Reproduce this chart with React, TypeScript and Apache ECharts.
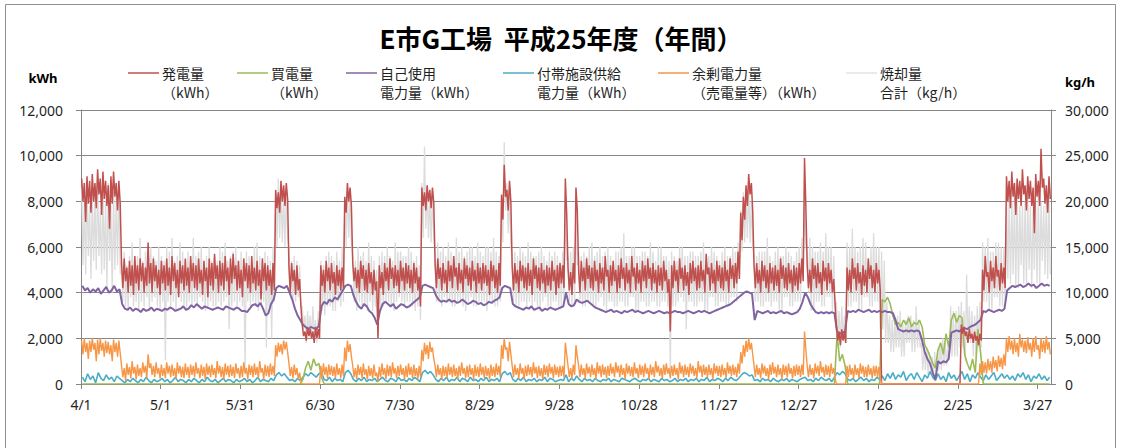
import React, { useEffect, useRef } from 'react';
import * as echarts from 'echarts';

// x-axis: day index 0..365 from 4/1, labels every 30 days
const tickLabels = ['4/1', '5/1', '5/31', '6/30', '7/30', '8/29', '9/28', '10/28', '11/27', '12/27', '1/26', '2/25', '3/27'];

const legendLine1 = ['発電量', '買電量', '自己使用', '付帯施設供給', '余剰電力量', '焼却量'];
const legendLine2 = ['（kWh）', '（kWh）', '電力量（kWh）', '電力量（kWh）', '（売電量等）（kWh）', '合計（kg/h）'];
const seriesColors = ['#c0504d', '#9bbb59', '#8064a2', '#4bacc6', '#f79646', '#dcdcdc'];

// 発電量 (kWh): daily high / low
const generationHigh = [
  9000, 8800, 9100, 8900, 9200, 8800, 9400, 9000, 9300, 8900,
  8700, 9100, 9300, 8800, 8900, 5300, 5500, 5100, 5400, 5200,
  5600, 5200, 5500, 5300, 5100, 6200, 5300, 5500, 5200, 5000,
  5400, 5200, 5500, 5100, 5600, 5300, 5000, 5400, 5200, 5500,
  5100, 5600, 5300, 5200, 5500, 5000, 5400, 5100, 5500, 5300,
  5700, 5200, 5400, 5300, 5600, 5100, 5500, 5700, 5200, 5400,
  5000, 5500, 5300, 5200, 5600, 5100, 5400, 5000, 5500, 5300,
  5200, 5000, 5300, 8500, 8400, 8900, 8700, 8800, 5100, 5300,
  5000, 5200, 4600, 2600, 2300, 2500, 2400, 2300, 2500, 2400,
  5200, 5000, 5400, 5100, 5300, 4900, 5200, 5000, 5100, 8200,
  8800, 8600, 5300, 5100, 5000, 5400, 5200, 5000, 5300, 4900,
  5000, 4500, 5200, 4900, 5300, 5100, 5500, 5100, 5200, 5000,
  5400, 5100, 5300, 5200, 5000, 5300, 5100, 4700, 8600, 8400,
  8700, 8500, 8600, 5200, 5500, 5100, 5300, 5000, 5400, 5200,
  5600, 5100, 5300, 5000, 5500, 5200, 5100, 5400, 5000, 5300,
  5100, 5300, 5200, 5000, 5400, 5200, 5000, 5300, 8300, 9600,
  8500, 8900, 5100, 5300, 5000, 5400, 5200, 5100, 5300, 5000,
  5500, 5200, 5100, 5300, 5000, 5200, 5100, 5400, 5000, 5200,
  5300, 5200, 9000, 5100, 4900, 5300, 8600, 5000, 5400, 5100,
  5500, 5200, 5100, 5400, 5000, 5300, 5100, 5600, 5000, 5200,
  5400, 5000, 5200, 5500, 5100, 5300, 5000, 5600, 5100, 5300,
  5000, 5400, 5200, 5500, 5100, 5300, 5000, 5200, 5100, 5400,
  5000, 4600, 5200, 5400, 5000, 5500, 5100, 5200, 4900, 5300,
  5400, 5100, 5200, 5400, 5000, 5700, 5100, 5300, 5000, 5400,
  5200, 5100, 5400, 5000, 5500, 5200, 5300, 5800, 7500, 8200,
  8700, 9200, 8800, 5200, 5300, 5000, 5400, 5200, 5000, 5300,
  5100, 5200, 5000, 5500, 5200, 5100, 5300, 5000, 5200, 5100,
  5300, 5500, 9900, 5200, 5000, 5500, 5200, 5300, 4900, 5400,
  5100, 5300, 5000, 4600, 2500, 2300, 2400, 2300, 5100, 5000,
  5500, 5100, 5300, 4900, 5200, 5000, 5500, 5200, 5000, 5300,
  5000, 0, 0, 0, 0, 0, 0, 0, 0, 0,
  0, 0, 0, 0, 0, 0, 0, 0, 0, 0,
  0, 0, 0, 0, 0, 0, 0, 0, 0, 0,
  0, 2600, 2500, 2300, 2400, 2200, 2300, 2100, 2200, 5000,
  5600, 4900, 5400, 5100, 5600, 5000, 5300, 5100, 9100, 8900,
  9300, 8800, 9000, 8900, 9400, 8700, 9100, 8900, 8600, 9200,
  8900, 10300, 9000, 8700, 9100,
];
const generationLow = [
  8000, 7100, 7900, 7500, 8000, 7700, 8300, 7400, 8100, 7800,
  6800, 7900, 8200, 7600, 7900, 4200, 4500, 4000, 4300, 3900,
  4400, 4100, 4500, 4000, 4300, 4400, 4000, 4500, 4200, 3900,
  4400, 4100, 4300, 3900, 4500, 4200, 3800, 4400, 4100, 4300,
  4000, 4500, 4200, 4100, 4400, 3900, 4500, 3800, 4300, 4100,
  4600, 4000, 4300, 4100, 4500, 3900, 4400, 4600, 4100, 4200,
  3800, 4500, 4200, 4000, 4400, 4100, 4300, 3700, 4500, 4100,
  4300, 3900, 4100, 7700, 7500, 8000, 7800, 8100, 4000, 4500,
  3900, 4100, 3400, 2100, 1900, 2100, 2000, 1800, 2000, 2000,
  4300, 4000, 4500, 4100, 4400, 3900, 4300, 4100, 4200, 7500,
  8000, 7800, 4500, 4200, 4000, 4600, 4100, 4000, 4400, 3900,
  4100, 2000, 4200, 3900, 4500, 4100, 4600, 4200, 4300, 4000,
  4500, 4100, 4400, 4200, 4000, 4400, 4100, 3400, 7800, 7600,
  8000, 7700, 7900, 4200, 4600, 4100, 4400, 4000, 4500, 4200,
  4700, 4100, 4400, 4000, 4600, 4300, 4100, 4500, 4000, 4400,
  4100, 4400, 4300, 3900, 4500, 4200, 4000, 4300, 7200, 8200,
  7600, 8000, 4100, 4400, 4000, 4500, 4200, 4100, 4300, 3900,
  4600, 4200, 4100, 4400, 4000, 4300, 4100, 4500, 3900, 4200,
  4400, 4200, 7500, 4100, 3900, 4400, 7600, 4000, 4500, 4100,
  4600, 4200, 4100, 4500, 4000, 4400, 4100, 4700, 4000, 4300,
  4500, 4000, 4200, 4600, 4100, 4400, 4000, 4700, 4100, 4400,
  4000, 4500, 4200, 4600, 4100, 4400, 4000, 4300, 4100, 4500,
  4000, 2300, 4200, 4500, 4000, 4600, 4100, 4300, 3900, 4400,
  4500, 4100, 4200, 4500, 4000, 4800, 4100, 4400, 4000, 4500,
  4200, 4100, 4500, 4000, 4600, 4200, 4400, 4600, 6300, 7200,
  7800, 8300, 7600, 4200, 4400, 4000, 4500, 4200, 4000, 4400,
  4100, 4300, 4000, 4600, 4200, 4100, 4400, 4000, 4300, 4100,
  4400, 4500, 7800, 4200, 4000, 4600, 4200, 4400, 3900, 4500,
  4100, 4400, 4000, 3500, 1900, 1700, 1900, 1800, 4100, 4000,
  4600, 4100, 4400, 3900, 4300, 4000, 4600, 4200, 4000, 4400,
  4100, 0, 0, 0, 0, 0, 0, 0, 0, 0,
  0, 0, 0, 0, 0, 0, 0, 0, 0, 0,
  0, 0, 0, 0, 0, 0, 0, 0, 0, 0,
  0, 2200, 2100, 1800, 2000, 1800, 1900, 1700, 1900, 4100,
  4700, 4000, 4500, 4200, 4700, 4100, 4400, 4200, 8000, 7700,
  8200, 7400, 8100, 7800, 8300, 7600, 8100, 7800, 6600, 8200,
  7800, 8600, 7900, 7500, 8100,
];

// 買電量 (kWh), daily
const purchased = [
  0, 0, 0, 0, 0, 0, 0, 0, 0, 0,
  0, 0, 0, 0, 0, 0, 0, 0, 0, 0,
  0, 0, 0, 0, 0, 0, 0, 0, 0, 0,
  0, 0, 0, 0, 0, 0, 0, 0, 0, 0,
  0, 0, 0, 0, 0, 0, 0, 0, 0, 0,
  0, 0, 0, 0, 0, 0, 0, 0, 0, 0,
  0, 0, 0, 0, 0, 0, 0, 0, 0, 0,
  0, 0, 0, 0, 0, 0, 0, 0, 0, 0,
  0, 0, 0, 200, 700, 1000, 600, 1100, 800, 900,
  300, 0, 0, 0, 0, 0, 0, 0, 0, 0,
  0, 0, 0, 0, 0, 0, 0, 0, 0, 0,
  0, 0, 0, 0, 0, 0, 0, 0, 0, 0,
  0, 0, 0, 0, 0, 0, 0, 0, 0, 0,
  0, 0, 0, 0, 0, 0, 0, 0, 0, 0,
  0, 0, 0, 0, 0, 0, 0, 0, 0, 0,
  0, 0, 0, 0, 0, 0, 0, 0, 0, 0,
  0, 0, 0, 0, 0, 0, 0, 0, 0, 0,
  0, 0, 0, 0, 0, 0, 0, 0, 0, 0,
  0, 0, 0, 0, 0, 0, 0, 0, 0, 0,
  0, 0, 0, 0, 0, 0, 0, 0, 0, 0,
  0, 0, 0, 0, 0, 0, 0, 0, 0, 0,
  0, 0, 0, 0, 0, 0, 0, 0, 0, 0,
  0, 0, 0, 0, 0, 0, 0, 0, 0, 0,
  0, 0, 0, 0, 0, 0, 0, 0, 0, 0,
  0, 0, 0, 0, 0, 0, 0, 0, 0, 0,
  0, 0, 0, 0, 0, 0, 0, 0, 0, 0,
  0, 0, 0, 0, 0, 0, 0, 0, 0, 0,
  0, 0, 0, 0, 0, 0, 0, 0, 0, 0,
  0, 0, 0, 0, 2200, 1000, 1300, 800, 0, 0,
  0, 0, 0, 0, 0, 0, 0, 0, 0, 0,
  0, 3700, 3600, 3800, 3500, 3000, 2600, 2700, 2500, 2800,
  2600, 2900, 2500, 2700, 2600, 2800, 2500, 1700, 1500, 1200,
  900, 700, 1500, 1800, 1300, 2200, 1600, 2800, 3100, 2700,
  3000, 2900, 1300, 900, 600, 1100, 500, 2400, 1400, 0,
  0, 0, 0, 0, 0, 0, 0, 0, 0, 0,
  0, 0, 0, 0, 0, 0, 0, 0, 0, 0,
  0, 0, 0, 0, 0,
];

// 自己使用電力量 (kWh), daily
const selfUse = [
  4300, 4100, 4200, 4000, 4150, 4050, 4200, 3950, 4100, 4250,
  4000, 4100, 4300, 4050, 4150, 3500, 3300, 3250, 3350, 3200,
  3300, 3250, 3150, 3300, 3200, 3250, 3350, 3200, 3300, 3250,
  3200, 3300, 3250, 3350, 3300, 3200, 3250, 3300, 3400, 3250,
  3300, 3450, 3350, 3500, 3400, 3300, 3400, 3350, 3300, 3250,
  3300, 3350, 3300, 3250, 3400, 3350, 3300, 3250, 3350, 3300,
  3200, 3200, 3150, 3300, 3450, 3500, 3400, 3550, 3300, 3000,
  3100, 3500, 3700, 4200, 4300, 4250, 4200, 4300, 4000, 3700,
  3300, 3000, 2800, 2600, 2500, 2400, 2500, 2450, 2400, 2550,
  3400, 3600, 3500, 3700, 3600, 3800, 3700, 3900, 4100, 4300,
  4350, 4300, 3900, 3600, 3400, 3300, 3500, 3400, 3200, 3100,
  2900, 2600, 3200, 3500, 3600, 3500, 3400, 3500, 3300, 3400,
  3500, 3450, 3350, 3400, 3500, 3600, 3700, 3800, 4300, 4350,
  4300, 4250, 4200, 3900, 3700, 3600, 3650, 3600, 3700, 3600,
  3650, 3550, 3600, 3700, 3600, 3500, 3550, 3650, 3600, 3500,
  3550, 3450, 3500, 3600, 3550, 3650, 3700, 3800, 4200, 4300,
  4250, 4200, 3500, 3400, 3350, 3300, 3250, 3350, 3300, 3400,
  3250, 3300, 3350, 3200, 3300, 3250, 3350, 3300, 3250, 3300,
  3350, 3400, 4000, 3500, 3400, 3450, 3700, 3600, 3550, 3600,
  3650, 3550, 3450, 3350, 3300, 3250, 3200, 3150, 3200, 3250,
  3150, 3200, 3150, 3100, 3200, 3150, 3200, 3250, 3150, 3200,
  3150, 3100, 3150, 3200, 3150, 3100, 3150, 3200, 3150, 3100,
  3150, 3100, 3150, 3200, 3150, 3150, 3100, 3150, 3200, 3150,
  3100, 3150, 3200, 3150, 3200, 3150, 3100, 3150, 3200, 3250,
  3300, 3350, 3400, 3450, 3500, 3600, 3700, 3800, 3900, 4000,
  4050, 4000, 3950, 2800, 3200, 3150, 3100, 3150, 3200, 3100,
  3150, 3100, 3150, 3200, 3100, 3150, 3100, 3050, 3100, 3150,
  3300, 3600, 4000, 3800, 3500, 3300, 3150, 3100, 3150, 3100,
  3150, 3100, 3150, 3100, 2300, 2200, 2250, 2300, 3200, 3150,
  3200, 3150, 3250, 3200, 3150, 3200, 3250, 3150, 3200, 3150,
  3200, 3150, 3200, 3150, 3150, 3100, 2800, 2400, 2350, 2300,
  2350, 2300, 2350, 2300, 2350, 2300, 1900, 1400, 1100, 900,
  500, 200, 1000, 900, 1000, 950, 1100, 2250, 2300, 2350,
  2300, 2400, 2450, 2400, 2500, 2550, 2600, 2700, 2800, 3200,
  3150, 3250, 3200, 3150, 3200, 3250, 3200, 3300, 4100, 4200,
  4300, 4250, 4300, 4350, 4250, 4300, 4400, 4300, 4350, 4200,
  4300, 4400, 4300, 4350, 4300,
];

// 付帯施設供給電力量 (kWh), daily
const facilitySupply = [
  300, 100, 450, 200, 350, 50, 500, 250, 150, 400,
  200, 300, 100, 350, 250, 150, 50, 200, 100, 250,
  150, 50, 200, 100, 300, 150, 50, 200, 100, 150,
  250, 100, 200, 50, 150, 300, 100, 200, 150, 50,
  200, 100, 250, 150, 50, 200, 100, 300, 150, 100,
  200, 50, 150, 250, 100, 200, 150, 50, 200, 100,
  150, 250, 100, 200, 50, 150, 300, 100, 200, 150,
  100, 250, 150, 400, 500, 350, 450, 300, 150, 200,
  100, 250, 150, 300, 450, 350, 500, 400, 300, 450,
  500, 200, 150, 300, 100, 250, 150, 200, 100, 500,
  600, 450, 200, 100, 250, 150, 300, 100, 200, 150,
  250, 100, 200, 300, 150, 100, 250, 200, 100, 300,
  150, 200, 100, 250, 150, 300, 200, 100, 500, 600,
  450, 550, 400, 200, 100, 250, 150, 300, 100, 200,
  150, 300, 100, 250, 200, 100, 300, 150, 200, 100,
  250, 150, 300, 100, 200, 150, 250, 100, 450, 550,
  400, 500, 200, 100, 250, 150, 300, 100, 200, 150,
  250, 100, 200, 150, 300, 100, 250, 200, 100, 150,
  200, 150, 400, 100, 250, 150, 350, 200, 100, 250,
  150, 200, 100, 250, 150, 100, 200, 150, 250, 100,
  200, 150, 100, 250, 200, 150, 100, 200, 250, 150,
  100, 200, 150, 250, 100, 200, 150, 100, 250, 150,
  200, 100, 150, 250, 100, 200, 150, 250, 100, 200,
  150, 250, 100, 200, 150, 300, 100, 200, 150, 250,
  200, 100, 250, 150, 300, 200, 150, 250, 400, 500,
  450, 350, 400, 150, 200, 100, 250, 150, 200, 100,
  250, 150, 100, 200, 150, 250, 100, 200, 150, 100,
  200, 250, 300, 150, 200, 100, 250, 150, 300, 200,
  150, 250, 100, 300, 500, 400, 550, 450, 200, 150,
  250, 100, 200, 300, 150, 250, 100, 200, 150, 300,
  200, 350, 150, 450, 250, 500, 200, 400, 300, 550,
  150, 350, 450, 200, 500, 300, 100, 400, 250, 550,
  300, 150, 450, 200, 350, 100, 500, 250, 400, 150,
  350, 550, 200, 450, 100, 400, 250, 500, 300, 150,
  400, 200, 350, 500, 150, 300, 450, 250, 400, 200,
  350, 150, 450, 300, 500, 200, 400, 100, 350, 250,
  450, 200, 350, 150, 300,
];

// 余剰電力量（売電量等） (kWh): daily high / low
const surplusHigh = [
  1900, 2000, 1800, 1900, 2000, 1800, 1950, 2000, 1800, 1900,
  1850, 1700, 1950, 1800, 1900, 800, 700, 900, 750, 1000,
  750, 850, 700, 950, 800, 1300, 900, 800, 950, 700,
  850, 700, 950, 800, 850, 700, 950, 800, 750, 900,
  750, 850, 800, 950, 700, 850, 750, 900, 800, 850,
  700, 1000, 800, 750, 900, 800, 850, 750, 900, 700,
  800, 950, 700, 850, 800, 900, 750, 1000, 700, 850,
  800, 900, 800, 1700, 1800, 1750, 1900, 1850, 900, 750,
  850, 700, 500, 0, 0, 0, 0, 0, 0, 0,
  800, 900, 750, 850, 800, 750, 900, 700, 850, 1600,
  1900, 1750, 800, 700, 850, 750, 900, 650, 800, 700,
  850, 500, 750, 900, 700, 850, 800, 950, 700, 800,
  850, 700, 800, 900, 750, 850, 700, 800, 1500, 1800,
  1700, 1850, 1600, 800, 850, 700, 800, 750, 900, 750,
  850, 700, 800, 950, 700, 800, 850, 700, 850, 750,
  900, 750, 800, 700, 850, 750, 900, 800, 1700, 2000,
  1600, 1850, 800, 850, 700, 900, 700, 800, 850, 750,
  950, 750, 800, 700, 850, 800, 900, 750, 850, 750,
  800, 800, 1800, 800, 700, 850, 1700, 800, 850, 700,
  900, 750, 850, 700, 950, 800, 850, 750, 800, 900,
  750, 950, 800, 850, 700, 900, 800, 750, 950, 700,
  850, 800, 900, 700, 850, 750, 1000, 800, 700, 850,
  900, 700, 800, 850, 700, 950, 800, 850, 750, 900,
  800, 700, 1000, 800, 850, 750, 850, 700, 900, 800,
  800, 850, 700, 950, 800, 850, 750, 900, 1400, 1700,
  1900, 2000, 1800, 800, 850, 700, 900, 800, 700, 850,
  950, 750, 850, 700, 850, 800, 900, 700, 800, 850,
  800, 850, 2300, 800, 850, 700, 900, 800, 1000, 750,
  850, 800, 900, 700, 0, 0, 0, 0, 800, 850,
  700, 850, 700, 900, 800, 750, 850, 700, 800, 800,
  750, 0, 0, 0, 0, 0, 0, 0, 0, 0,
  0, 0, 0, 0, 0, 0, 0, 0, 0, 0,
  0, 0, 0, 0, 0, 0, 0, 0, 0, 0,
  0, 0, 0, 0, 0, 0, 0, 0, 900, 1000,
  950, 1100, 1000, 1200, 1050, 1250, 1150, 1300, 2000, 2100,
  1900, 2000, 1800, 2200, 1950, 1900, 2050, 1800, 2000, 2100,
  1700, 2000, 1900, 2100, 1850,
];
const surplusLow = [
  1300, 1400, 1100, 1400, 1500, 1000, 1300, 1450, 1200, 1350,
  1300, 1000, 1400, 1200, 1350, 300, 150, 400, 250, 450,
  200, 350, 300, 500, 250, 700, 400, 300, 450, 250,
  350, 250, 450, 300, 350, 200, 450, 300, 250, 400,
  250, 400, 300, 450, 250, 350, 200, 400, 300, 400,
  250, 450, 300, 200, 400, 300, 350, 250, 450, 250,
  300, 450, 200, 400, 300, 400, 250, 500, 200, 350,
  300, 400, 350, 1200, 1400, 1300, 1500, 1400, 350, 250,
  400, 200, 100, 0, 0, 0, 0, 0, 0, 0,
  300, 400, 250, 400, 350, 250, 400, 250, 350, 1000,
  1400, 1200, 300, 200, 400, 250, 400, 200, 350, 250,
  350, 100, 300, 400, 200, 350, 300, 450, 250, 350,
  400, 200, 300, 400, 250, 350, 200, 300, 1000, 1300,
  1100, 1400, 1100, 300, 400, 200, 350, 250, 400, 300,
  350, 200, 350, 450, 250, 300, 400, 200, 350, 300,
  400, 250, 350, 200, 350, 300, 400, 300, 1100, 1500,
  1000, 1300, 300, 400, 250, 450, 200, 350, 400, 300,
  450, 250, 350, 200, 400, 300, 450, 250, 400, 300,
  350, 300, 1300, 300, 250, 400, 1200, 300, 400, 250,
  450, 300, 400, 200, 450, 300, 400, 250, 350, 450,
  300, 500, 300, 400, 200, 450, 350, 300, 450, 250,
  400, 300, 450, 200, 400, 300, 500, 350, 250, 400,
  450, 250, 350, 400, 200, 450, 300, 400, 300, 450,
  350, 250, 500, 300, 400, 300, 400, 200, 450, 350,
  300, 400, 250, 450, 350, 400, 300, 450, 900, 1200,
  1400, 1500, 1300, 300, 400, 250, 450, 350, 200, 400,
  450, 300, 400, 200, 400, 300, 450, 250, 350, 400,
  300, 400, 1500, 300, 400, 250, 450, 350, 500, 300,
  400, 300, 450, 250, 0, 0, 0, 0, 300, 400,
  250, 400, 250, 450, 300, 300, 400, 250, 350, 300,
  300, 0, 0, 0, 0, 0, 0, 0, 0, 0,
  0, 0, 0, 0, 0, 0, 0, 0, 0, 0,
  0, 0, 0, 0, 0, 0, 0, 0, 0, 0,
  0, 0, 0, 0, 0, 0, 0, 0, 400, 500,
  450, 600, 500, 700, 550, 750, 650, 800, 1400, 1500,
  1300, 1400, 1200, 1600, 1400, 1350, 1500, 1200, 1400, 1500,
  1100, 1400, 1350, 1500, 1300,
];

// 焼却量合計 (kg/h): daily high / low, right axis
const incinerationHigh = [
  21500, 20000, 22000, 19500, 21000, 20500, 22500, 19000, 21500, 20000,
  22000, 19500, 21000, 20500, 21500, 13500, 14500, 13000, 14000, 15500,
  13500, 14000, 16000, 13500, 14500, 13000, 15000, 14000, 13500, 15000,
  14000, 13500, 15000, 14500, 16000, 13500, 14000, 15500, 14500, 13500,
  14500, 13500, 16000, 14000, 14500, 15000, 13500, 14000, 15000, 13500,
  14000, 13500, 15000, 14500, 15500, 13500, 14000, 14500, 15000, 13500,
  14500, 13000, 14500, 14000, 13500, 15000, 15500, 14000, 13500, 14500,
  14000, 13500, 15000, 21000, 22500, 21500, 20500, 21000, 15000, 13500,
  14000, 13500, 13000, 8500, 7500, 8000, 7500, 8500, 7000, 8000,
  13500, 13000, 14000, 14500, 14000, 13500, 14500, 13500, 15000, 19000,
  21500, 20500, 14000, 13500, 15000, 14000, 14500, 13500, 15500, 14000,
  13500, 12500, 14000, 14500, 14000, 15000, 14000, 13500, 15500, 14500,
  14500, 14000, 14000, 15000, 14500, 13500, 14000, 13000, 22000, 26000,
  21500, 20500, 21000, 14500, 15500, 14500, 15000, 14000, 15500, 14500,
  14000, 16000, 14500, 15000, 14000, 14500, 15000, 15000, 14000, 15500,
  14500, 14000, 15000, 15000, 14500, 16000, 14500, 14000, 20500, 26500,
  22000, 20500, 14000, 14500, 14000, 15000, 14500, 14000, 15500, 14500,
  14000, 14000, 14500, 15000, 14000, 13500, 14500, 14000, 14500, 14000,
  13500, 14500, 19500, 14000, 14500, 15000, 18500, 14500, 14000, 14500,
  14000, 15000, 15500, 14000, 14500, 15000, 14000, 14500, 15000, 14000,
  13500, 14500, 14500, 15000, 16500, 14000, 14000, 15000, 15000, 14000,
  14000, 14500, 14500, 14000, 15500, 14500, 13500, 15000, 15000, 14000,
  14000, 13500, 14500, 14000, 13500, 15000, 15000, 14000, 14000, 14500,
  14500, 14000, 14000, 14500, 15500, 14000, 14000, 15000, 14500, 14000,
  13500, 14500, 15000, 14000, 14000, 15000, 14500, 15500, 19000, 21000,
  20500, 22000, 20000, 14000, 14000, 14500, 14500, 14500, 16000, 14000,
  13500, 14500, 15000, 14000, 14000, 15000, 14500, 14000, 13500, 14500,
  15000, 16000, 20500, 14500, 16000, 15000, 14500, 14500, 15500, 14500,
  16500, 15000, 15000, 14000, 9000, 8000, 8500, 7500, 15500, 15000,
  17000, 15000, 14500, 15000, 16000, 15500, 13500, 15000, 16500, 15000,
  15000, 14500, 13500, 9000, 7500, 7000, 7000, 7500, 8000, 6500,
  7000, 7500, 7500, 7000, 8500, 7000, 4500, 4000, 4000, 3500,
  3000, 3500, 3500, 4500, 5000, 4500, 4000, 8500, 8000, 8000,
  8500, 9000, 8000, 12000, 8500, 8000, 7500, 8500, 9000, 15500,
  15000, 16000, 14500, 14500, 15500, 15500, 15000, 15000, 20500, 20000,
  20000, 20500, 21000, 19500, 19500, 20000, 20500, 19500, 19000, 20000,
  21000, 20000, 19500, 20500, 20500,
];
const incinerationLow = [
  13000, 12000, 14000, 11500, 13500, 12500, 14000, 12000, 12500, 10500,
  13500, 10000, 12500, 13000, 12000, 9000, 8500, 8000, 9500, 8500,
  9000, 8000, 9000, 8500, 9500, 8000, 9000, 9500, 8500, 8000,
  9000, 2600, 9000, 8500, 9000, 8000, 9500, 9000, 8500, 8000,
  9000, 8500, 9000, 8500, 9500, 9000, 8000, 8500, 9000, 8500,
  8500, 9000, 8500, 9000, 9500, 6000, 8500, 9000, 8500, 9000,
  8500, 1500, 9000, 8500, 9000, 8500, 8000, 8500, 9000, 4000,
  8500, 5000, 9000, 15000, 16000, 15500, 15000, 16000, 10000, 9000,
  9000, 9500, 8500, 6000, 4500, 5500, 5000, 5500, 4500, 5500,
  8000, 7500, 8500, 8500, 8000, 8000, 9000, 8500, 9000, 15000,
  16000, 15500, 9000, 8000, 9000, 8500, 8500, 8000, 9000, 8000,
  8500, 5000, 8500, 8500, 9000, 9000, 8500, 8000, 9000, 9500,
  9000, 8500, 9000, 9000, 8500, 8000, 8500, 7000, 16000, 17000,
  16000, 15500, 16000, 9000, 9000, 8500, 9500, 9000, 9000, 8500,
  8500, 9000, 9000, 8500, 8000, 9000, 9500, 8500, 8500, 9000,
  9000, 9000, 8000, 9000, 9000, 8500, 8500, 9000, 15500, 19000,
  16500, 15000, 9000, 8500, 8500, 9000, 9000, 8500, 9000, 8500,
  9000, 8500, 8000, 9000, 9500, 8500, 8500, 9000, 9000, 8500,
  8500, 9000, 13500, 9000, 8500, 9000, 13000, 9000, 8500, 8500,
  9000, 9000, 8500, 8500, 9000, 9500, 8500, 8000, 9000, 9000,
  8500, 8500, 9000, 9000, 8500, 8500, 9500, 9500, 8000, 8000,
  9000, 9000, 8500, 8500, 9000, 9000, 8500, 8500, 9000, 9000,
  8500, 1000, 8500, 8500, 9000, 9500, 9000, 6000, 9000, 9000,
  8500, 8500, 9000, 9000, 8000, 8000, 9500, 9500, 8500, 8500,
  9000, 9000, 8500, 8500, 9500, 9500, 9000, 12000, 14500, 15500,
  16000, 15500, 15000, 9000, 9000, 8500, 8500, 9000, 9000, 8500,
  9000, 9000, 8000, 8000, 9500, 9500, 8500, 8500, 9000, 9000,
  9000, 12000, 15000, 10000, 8000, 8000, 9000, 9000, 8500, 8500,
  9500, 9500, 8000, 8000, 5000, 4000, 5000, 4500, 8500, 8500,
  9000, 9000, 8000, 8000, 9500, 9500, 8500, 8500, 9000, 9000,
  6000, 6000, 4500, 4500, 3500, 3500, 4000, 4000, 3000, 3000,
  4500, 4500, 3500, 3500, 4000, 4000, 1500, 1500, 1000, 1000,
  800, 800, 1500, 1500, 2000, 2000, 3000, 3000, 3000, 3000,
  4000, 4000, 2500, 4500, 4500, 3000, 3000, 4000, 4000, 9000,
  9000, 8000, 8000, 9500, 9500, 8500, 8500, 9000, 11500, 11000,
  12000, 10500, 10500, 13000, 11000, 11000, 12500, 10500, 12500, 11000,
  11000, 13500, 12000, 11500, 12000,
];

const FONT = "'Noto Sans', 'Noto Sans CJK JP', sans-serif";
const JFONT = "'Noto Sans CJK JP', 'Noto Sans', sans-serif";
const AXIS_GRAY = '#868686';
const TEXT = '#1f1f1f';

const legendLineX = [128, 237, 346, 503, 658, 846];

export default function App() {
  const ref = useRef<HTMLDivElement>(null);

  useEffect(() => {
    if (!ref.current) return;
    const chart = echarts.init(ref.current, null, { renderer: 'svg' });
    const toPts = (arr: number[]) => arr.map((v, i) => [i + 0.5, v]);
    // each day drawn as its high then its low reading
    const toBand = (hi: number[], lo: number[]) =>
      hi.flatMap((h, i) => [[i + 0.25, h], [i + 0.75, lo[i]]]);

    const mk = (name: string, data: number[][], color: string, z: number, yAxisIndex: number, width: number) => ({
      name,
      type: 'line',
      data,
      yAxisIndex,
      symbol: 'none',
      showSymbol: false,
      z,
      lineStyle: { color, width, join: 'bevel' },
      itemStyle: { color },
      emphasis: { disabled: true },
      silent: true,
    });

    const graphics: any[] = [
      {
        type: 'rect',
        shape: { x: 5.5, y: 4.5, width: 1110, height: 470 },
        style: { fill: 'none', stroke: '#8f8f8f', lineWidth: 1 },
        silent: true,
      },
      {
        type: 'text',
        x: 561,
        y: 37,
        style: {
          text: 'E市G工場  平成25年度（年間）',
          font: `bold 26px ${JFONT}`,
          fill: '#000',
          align: 'center',
          verticalAlign: 'middle',
        },
      },
      {
        type: 'text',
        x: 43,
        y: 78,
        style: { text: 'kWh', font: `bold 13px ${FONT}`, fill: '#000', align: 'center', verticalAlign: 'middle' },
      },
      {
        type: 'text',
        x: 1080,
        y: 82,
        style: { text: 'kg/h', font: `bold 13px ${FONT}`, fill: '#000', align: 'center', verticalAlign: 'middle' },
      },
    ];
    legendLine1.forEach((t, i) => {
      const lx = legendLineX[i];
      graphics.push({
        type: 'line',
        shape: { x1: lx, y1: 73, x2: lx + 31, y2: 73 },
        style: { stroke: i === 5 ? '#e3e3e3' : seriesColors[i], lineWidth: 1.5 },
      });
      graphics.push({
        type: 'text',
        x: lx + 34,
        y: 73,
        style: { text: t, font: `14px ${JFONT}`, fill: TEXT, verticalAlign: 'middle' },
      });
      graphics.push({
        type: 'text',
        x: lx + 34,
        y: 92,
        style: { text: legendLine2[i], font: `14px ${JFONT}`, fill: TEXT, verticalAlign: 'middle' },
      });
    });

    const names = legendLine1.map((a, i) => a + legendLine2[i]);

    chart.setOption({
      animation: false,
      backgroundColor: '#ffffff',
      grid: { left: 81, right: 70, top: 110, bottom: 64, containLabel: false },
      xAxis: {
        type: 'value',
        min: 0,
        max: 365,
        interval: 30,
        axisLine: { show: true, lineStyle: { color: AXIS_GRAY, width: 1 } },
        axisTick: { show: true, length: 5, lineStyle: { color: AXIS_GRAY } },
        splitLine: { show: false },
        axisLabel: {
          margin: 13,
          color: TEXT,
          fontSize: 14,
          fontFamily: FONT,
          showMaxLabel: false,
          formatter: (v: number) => tickLabels[Math.round(v / 30)] ?? '',
        },
      },
      yAxis: [
        {
          type: 'value',
          min: 0,
          max: 12000,
          interval: 2000,
          axisLine: { show: true, lineStyle: { color: AXIS_GRAY, width: 1 } },
          axisTick: { show: true, length: 5, lineStyle: { color: AXIS_GRAY } },
          splitLine: { show: true, lineStyle: { color: AXIS_GRAY, width: 1 } },
          axisLabel: {
            margin: 18,
            color: TEXT,
            fontSize: 14,
            fontFamily: FONT,
            formatter: (v: number) => v.toLocaleString('en-US'),
          },
        },
        {
          type: 'value',
          min: 0,
          max: 30000,
          interval: 5000,
          position: 'right',
          axisLine: { show: true, lineStyle: { color: AXIS_GRAY, width: 1 } },
          axisTick: { show: true, length: 5, lineStyle: { color: AXIS_GRAY } },
          splitLine: { show: false },
          axisLabel: {
            margin: 14,
            color: TEXT,
            fontSize: 14,
            fontFamily: FONT,
            formatter: (v: number) => v.toLocaleString('en-US'),
          },
        },
      ],
      series: [
        mk(names[5], toBand(incinerationHigh, incinerationLow), seriesColors[5], 1, 1, 1.3),
        mk(names[3], toPts(facilitySupply), seriesColors[3], 2, 0, 1.6),
        mk(names[1], toPts(purchased), seriesColors[1], 3, 0, 1.6),
        mk(names[2], toPts(selfUse), seriesColors[2], 4, 0, 2),
        mk(names[0], toBand(generationHigh, generationLow), seriesColors[0], 5, 0, 1.5),
        mk(names[4], toBand(surplusHigh, surplusLow), seriesColors[4], 6, 0, 1.4),
      ],
      graphic: graphics,
    });

    return () => chart.dispose();
  }, []);

  return (
    <div
      ref={ref}
      style={{ position: 'absolute', left: 0, top: 0, width: 1121, height: 448, background: '#fff' }}
    />
  );
}
